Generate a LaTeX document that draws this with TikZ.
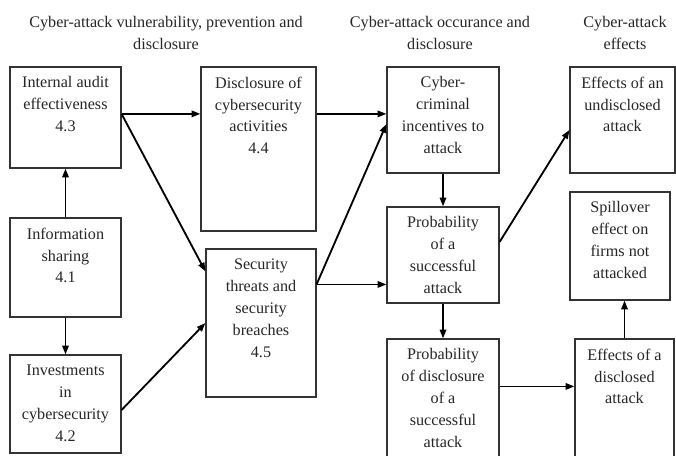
\documentclass[tikz,border=0pt]{standalone}
\usepackage{fontspec}
\setmainfont{Liberation Serif}
\usetikzlibrary{arrows.meta}

\begin{document}
\begin{tikzpicture}[
  x=1cm, y=1cm,
  every node/.style={inner sep=1pt},
  txt/.style={font=\fontsize{11.5pt}{15.6pt}\selectfont, text=black!85},
  head/.style={txt, align=center, inner sep=0pt},
  blk/.style={draw=black!80, line width=0.8pt, inner sep=0pt},
  blktxt/.style={txt, anchor=north, align=center, inner sep=0pt, yshift=-0.25cm},
  arrow/.style={draw, line width=1.3pt, -{Triangle[length=2.2mm, width=1.6mm]}},
  link/.style={draw, line width=1.3pt}]

  \useasboundingbox (0,0) rectangle (16.9,11.375);

  % ---- column headings ----------------------------------------------------
  \node[head] (h1) at (4.15,10.55)   {Cyber-attack vulnerability, prevention and\\disclosure};
  \node[head] (h2) at (11.0,10.55)   {Cyber-attack occurance and\\disclosure};
  \node[head] (h3) at (15.625,10.55) {Cyber-attack\\effects};

  % ---- boxes --------------------------------------------------------------
  \node[blk, minimum width=2.775cm, minimum height=2.525cm,
        label={[blktxt]north:{Internal audit\\effectiveness\\4.3}}] (ia) at (1.6375,8.4375) {};
  \node[blk, minimum width=2.775cm, minimum height=2.475cm,
        label={[blktxt]north:{Information\\sharing\\4.1}}] (is) at (1.6375,4.6875) {};
  \node[blk, minimum width=2.775cm, minimum height=2.45cm,
        label={[blktxt]north:{Investments\\in\\cybersecurity\\4.2}}] (inv) at (1.6375,1.275) {};
  \node[blk, minimum width=2.875cm, minimum height=4.1cm,
        label={[blktxt]north:{Disclosure of\\cybersecurity\\activities\\4.4}}] (dc) at (6.4625,7.65) {};
  \node[blk, minimum width=2.75cm, minimum height=3.7cm,
        label={[blktxt]north:{Security\\threats and\\security\\breaches\\4.5}}] (st) at (6.525,3.3) {};
  \node[blk, minimum width=2.8cm, minimum height=2.65cm,
        label={[blktxt]north:{Cyber-\\criminal\\incentives to\\attack}}] (cc) at (11.075,8.375) {};
  \node[blk, minimum width=2.8cm, minimum height=2.4cm,
        label={[blktxt]north:{Probability\\of a\\successful\\attack}}] (ps) at (11.075,5.0) {};
  \node[blk, minimum width=2.8cm, minimum height=3.275cm,
        label={[blktxt]north:{Probability\\of disclosure\\of a\\successful\\attack}}] (pd) at (11.075,1.2625) {};
  \node[blk, minimum width=2.625cm, minimum height=2.65cm,
        label={[blktxt]north:{Effects of an\\undisclosed\\attack}}] (eu) at (15.5625,8.375) {};
  \node[blk, minimum width=2.5cm, minimum height=2.7cm,
        label={[blktxt]north:{Spillover\\effect on\\firms not\\attacked}}] (sp) at (15.5,5.225) {};
  \node[blk, minimum width=2.475cm, minimum height=3.275cm,
        label={[blktxt]north:{Effects of a\\disclosed\\attack}}] (ed) at (15.6125,1.2625) {};

  % ---- connectors ---------------------------------------------------------
  \coordinate (iaout) at ([yshift=0.09cm]ia.east);
  \coordinate (stout) at ([yshift=-0.9cm]st.north east);
  \coordinate (psout) at ([yshift=0.325cm]ps.east);
  \coordinate (pdout) at ([yshift=-1.2cm]pd.north east);

  \draw[arrow] (is.north) -- (ia.south);
  \draw[arrow] (is.south) -- (inv.north);
  \draw[arrow] (iaout) -- (iaout -| dc.west);
  \draw[arrow] (iaout) -- ([yshift=-0.575cm]st.north west);
  \draw[arrow] ([yshift=-0.15cm]inv.east) -- (st.west);
  \draw[arrow] (iaout -| dc.east) -- (iaout -| cc.west);
  \draw[arrow] (stout) -- ([yshift=-0.1cm]cc.west);
  \draw[arrow] (stout) -- (stout -| ps.west);
  \draw[arrow] (cc.south) -- (ps.north);
  \draw[arrow] (ps.south) -- (pd.north);
  \draw[arrow] (psout) -- ([yshift=-0.25cm]eu.west);
  \draw[arrow] (pdout) -- (pdout -| ed.west);
  \draw[arrow] (ed.north) -- (ed.north |- sp.south);
\end{tikzpicture}
\end{document}
